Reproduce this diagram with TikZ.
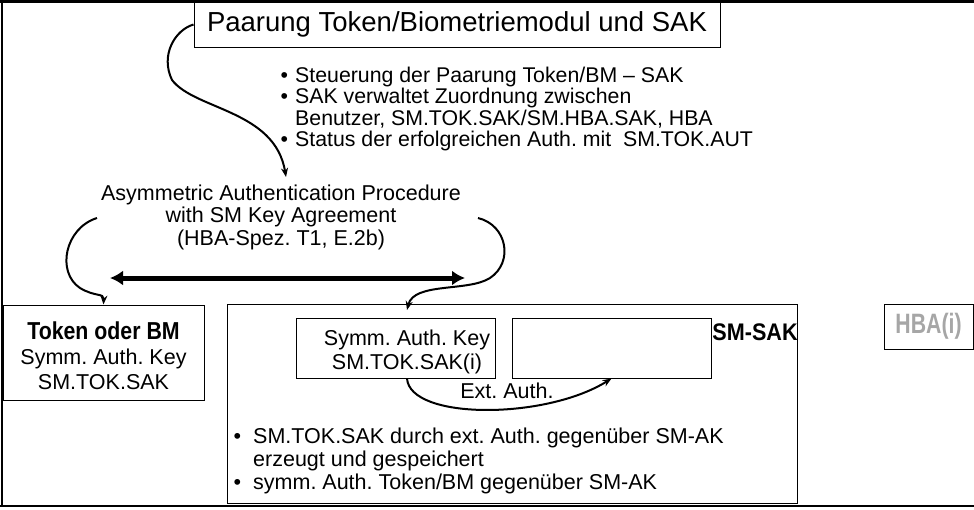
\documentclass[tikz,border=0pt]{standalone}
\usepackage{fontspec}
\setmainfont{Liberation Sans}
\usepackage{graphicx}
\usetikzlibrary{arrows.meta}
\frenchspacing
\begin{document}
\begin{tikzpicture}[x=1pt,y=-1pt,
  box/.style={draw,line width=1pt,inner sep=0pt},
  txt/.style={inner sep=0pt,font=\fontsize{21.5}{22.5}\selectfont},
  curv/.style={line width=2pt,-{Stealth[length=9pt,width=7pt]}},
  condbold/.style={inner sep=0pt,font=\fontsize{24}{24}\selectfont\bfseries}
  ]
\useasboundingbox (0,0) rectangle (974,509);
% frame
\draw[line width=2.5pt] (0,1.25) -- (974,1.25);
\draw[line width=2pt] (1.5,0) -- (1.5,507);
\draw[line width=1.5pt] (0,506) -- (974,506);
% title
\node[box,fill=white,minimum width=526pt,minimum height=45pt,font=\fontsize{27.5}{30}\selectfont] (title) at (457,24.5) {Paarung Token/Biometriemodul und SAK};
% top bullets
\node[txt,anchor=west,align=left,font=\fontsize{21.3}{21.5}\selectfont] (bul1) at (295,109) {\llap{•\hspace{7pt}}Steuerung der Paarung Token/BM – SAK\\
\llap{•\hspace{7pt}}SAK verwaltet Zuordnung zwischen\\
Benutzer, SM.TOK.SAK/SM.HBA.SAK, HBA\\
\llap{•\hspace{7pt}}Status der erfolgreichen Auth. mit~~SM.TOK.AUT};
% asym text
\node[txt,align=center] (asym) at (281,217) {Asymmetric Authentication Procedure\\with SM Key Agreement\\(HBA-Spez. T1, E.2b)};
% token box
\node[box,minimum width=201pt,minimum height=95pt] (token) at (103.5,352.5) {};
\node[inner sep=0pt,align=center,font=\fontsize{21.5}{25}\selectfont] (tokentext) at (103.5,356) {{\fontsize{24.5}{24}\selectfont\bfseries\scalebox{0.87}[1]{Token oder BM}}\\Symm. Auth. Key\\SM.TOK.SAK};
% SM-SAK box
\node[box,minimum width=570pt,minimum height=199pt] (smsak) at (512,403.5) {};
\node[box,minimum width=199pt,minimum height=60pt] (key) at (395.5,348) {};
\node[txt,align=center,font=\fontsize{21.5}{24.5}\selectfont] (keytext) at (407,352) {Symm. Auth. Key\\SM.TOK.SAK(i)};
\node[box,minimum width=199pt,minimum height=60pt] (slot) at (611.5,348) {};
\node[condbold] (smlabel) at (755,332) {\scalebox{0.9}[1]{SM-SAK}};
\node[txt] (extlbl) at (507,391) {Ext. Auth.};
\node[txt,anchor=west,align=left,font=\fontsize{21.5}{23}\selectfont] (bul2) at (253,460.5) {\llap{•\hspace{12pt}}SM.TOK.SAK durch ext. Auth. gegenüber SM-AK\\
erzeugt und gespeichert\\
\llap{•\hspace{12pt}}symm. Auth. Token/BM gegenüber SM-AK};
% HBA
\node[box,minimum width=89pt,minimum height=45pt,text=black!35,font=\fontsize{28}{28}\selectfont\bfseries] (hba) at (928.5,326.5) {\scalebox{0.76}[1]{HBA(i)}};
% connectors
\coordinate (t1) at (286,177);
\draw[curv] (title.west) .. controls (175,30) and (160,55) .. (172,80) .. controls (195,110) and (275,110) .. (t1);
\coordinate (ls) at (97,218);
\draw[curv] (ls) .. controls (65,228) and (56,272) .. (80,288) .. controls (95,297) and (104,293) .. (token.north);
\coordinate (rs) at (478,218);
\coordinate (rt) at (407,310);
\draw[curv] (rs) .. controls (507,225) and (514,262) .. (490,278) .. controls (468,292) and (414,282) .. (rt);
\draw[curv] (key.south -| keytext.center) .. controls (410,420) and (545,420) .. (slot.south);
\coordinate (dl) at (110,278);
\coordinate (dr) at (465,278);
\draw[line width=5pt,{Latex[length=13pt,width=15pt]}-{Latex[length=13pt,width=15pt]}] (dl) -- (dr);
\end{tikzpicture}
\end{document}
